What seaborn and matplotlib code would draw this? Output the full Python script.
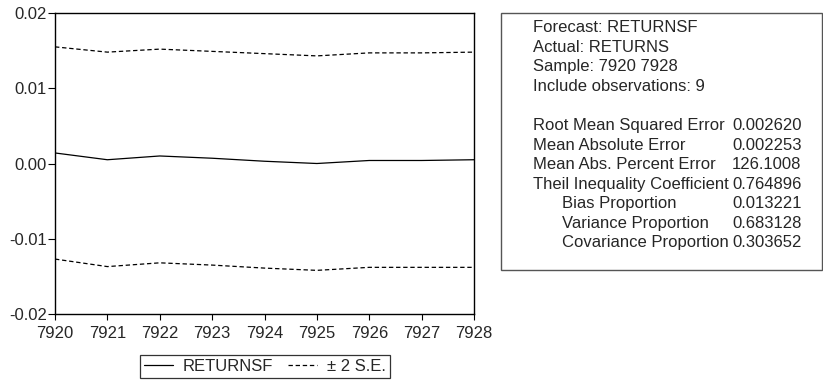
import numpy as np
import pandas as pd
import seaborn as sns
import matplotlib.pyplot as plt
from matplotlib.lines import Line2D
from matplotlib.patches import Rectangle

periods = [7920, 7921, 7922, 7923, 7924, 7925, 7926, 7927, 7928]
forecast = [0.0014, 0.0005, 0.0010, 0.0007, 0.0003, 0.0000, 0.0004, 0.0004, 0.0005]
upper = [0.0155, 0.0148, 0.0152, 0.0149, 0.0146, 0.0143, 0.0147, 0.0147, 0.0148]
lower = [-0.0127, -0.0137, -0.0132, -0.0135, -0.0139, -0.0142, -0.0138, -0.0138, -0.0138]

yticks = [-0.02, -0.01, 0.00, 0.01, 0.02]
ytick_labels = ["-0.02", "-0.01", "0.00", "0.01", "0.02"]

header_lines = ["Forecast: RETURNSF", "Actual: RETURNS", "Sample: 7920 7928", "Include observations: 9"]
stat_names = ["Root Mean Squared Error", "Mean Absolute Error", "Mean Abs. Percent Error",
              "Theil Inequality Coefficient", "Bias Proportion", "Variance Proportion",
              "Covariance Proportion"]
stat_values = ["0.002620", "0.002253", "126.1008", "0.764896", "0.013221", "0.683128", "0.303652"]
stat_indent = [False, False, False, False, True, True, True]

sns.set_theme(style="white")
plt.rcParams["font.family"] = ["Liberation Sans", "DejaVu Sans"]
FS = 12

df = pd.DataFrame({"period": periods, "forecast": forecast, "upper": upper, "lower": lower})

fig = plt.figure(figsize=(8.23, 3.88), dpi=100)
ax = fig.add_axes([55 / 823, 1 - 314 / 388, 419 / 823, 301 / 388])

dash = (3.5, 2.2)
sns.lineplot(data=df, x="period", y="forecast", color="black", linewidth=0.9, ax=ax)
sns.lineplot(data=df, x="period", y="upper", color="black", linewidth=0.9, ax=ax)
sns.lineplot(data=df, x="period", y="lower", color="black", linewidth=0.9, ax=ax)
for ln in ax.lines[1:]:
    ln.set_dashes(dash)

ax.set_xlim(periods[0], periods[-1])
ax.set_ylim(-0.02, 0.02)
ax.set_xticks(periods)
ax.set_xticklabels([str(p) for p in periods], fontsize=FS)
ax.set_yticks(yticks)
ax.set_yticklabels(ytick_labels, fontsize=FS)
ax.set_xlabel("")
ax.set_ylabel("")
ax.tick_params(axis="x", direction="out", length=4, width=0.8, color="black", pad=5, bottom=True)
ax.tick_params(axis="y", direction="out", length=5, width=0.8, color="black", pad=1, left=True)
for s in ax.spines.values():
    s.set_color("black")
    s.set_linewidth(1.0)

handles = [Line2D([], [], color="black", linewidth=0.9),
           Line2D([], [], color="black", linewidth=0.9, dashes=dash)]
leg = fig.legend(handles, ["RETURNSF", "± 2 S.E."], loc="center",
                 bbox_to_anchor=(265 / 823, 1 - 366.5 / 388), ncol=2, frameon=True, fancybox=False,
                 fontsize=FS, handlelength=1.75, handletextpad=0.6, columnspacing=0.9,
                 borderpad=0.25, borderaxespad=0)
leg.get_frame().set_edgecolor("black")
leg.get_frame().set_linewidth(0.9)

# statistics box
fig.patches.append(Rectangle((501 / 823, 1 - 270 / 388), 321 / 823, 257 / 388,
                             transform=fig.transFigure, fill=False, edgecolor="#555555",
                             linewidth=1.0))
y = 1 - 28 / 388
step = 19.5 / 388
for line in header_lines:
    fig.text(533 / 823, y, line, fontsize=FS, va="center", ha="left")
    y -= step
y -= step
for name, val, ind in zip(stat_names, stat_values, stat_indent):
    x0 = 562 / 823 if ind else 533 / 823
    fig.text(x0, y, name, fontsize=FS, va="center", ha="left")
    fig.text(732 / 823, y, val, fontsize=FS, va="center", ha="left")
    y -= step

fig.savefig("out.png", dpi=100)
